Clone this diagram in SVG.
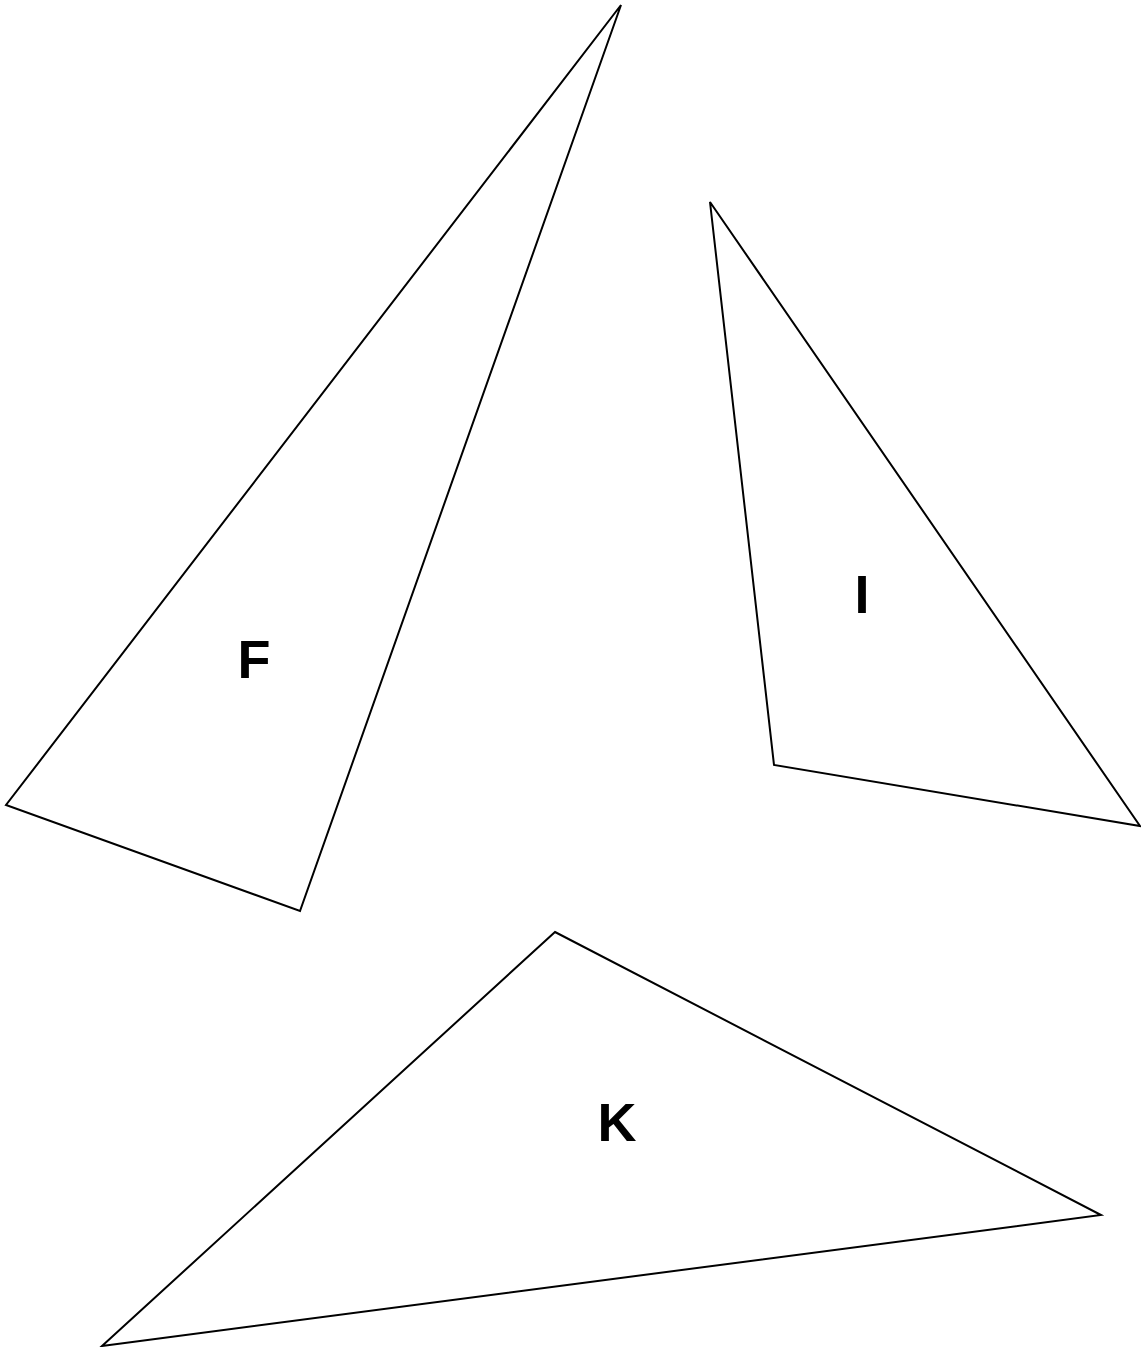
<svg xmlns="http://www.w3.org/2000/svg" width="1141" height="1347" viewBox="0 0 1141 1347">
<style>
.tri{fill:none;stroke:#000;stroke-width:2;stroke-linejoin:miter}
.lbl{font-family:"Liberation Sans",Arial,sans-serif;font-weight:bold;font-size:54px;fill:#000;text-anchor:middle}
</style>
<rect width="1141" height="1347" fill="#fff"/>
<g id="F">
<polygon class="tri" points="621,5 6,805 300,911"/>
<text class="lbl" x="254" y="678">F</text>
</g>
<g id="I">
<polygon class="tri" points="710,202 774,765 1140,826"/>
<text class="lbl" x="862" y="613">I</text>
</g>
<g id="K">
<polygon class="tri" points="555,932 1101,1215 102,1346"/>
<text class="lbl" x="617" y="1141">K</text>
</g>
<g id="connectors"/>
</svg>
